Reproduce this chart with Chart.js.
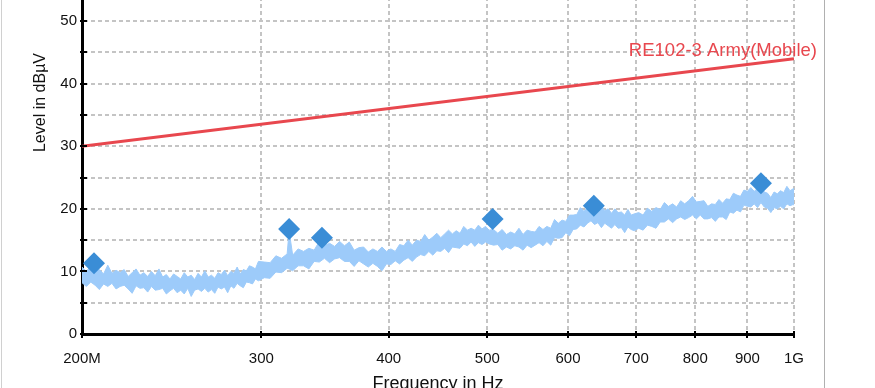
<!DOCTYPE html>
<html>
<head>
<meta charset="utf-8">
<script src="https://cdn.jsdelivr.net/npm/chart.js@4.4.0/dist/chart.umd.min.js"></script>
<style>
  html, body { margin: 0; padding: 0; background: #fff; overflow: hidden; }
  #wrap { position: relative; width: 875px; height: 388px; overflow: hidden; }
  #graficoEspectro { position: absolute; left: 0; top: -140px; }
  .frame { position: absolute; top: 0; bottom: 0; width: 0; }
  #frameLeft { left: 1px; border-left: 1px solid #d0d0d0; }
  #frameRight { left: 824px; border-left: 1px solid #b0b0b0; }
</style>
</head>
<body>
<div id="wrap">
  <canvas id="graficoEspectro" width="875" height="540"></canvas>
  <div class="frame" id="frameLeft"></div>
  <div class="frame" id="frameRight"></div>
</div>
<script>
// spectrum trace, read as an upper / lower envelope (MHz, dBuV)
var freqMHz = [
  200, 202, 204, 206, 208, 210, 212, 214, 216, 218, 220, 222, 224, 226, 228, 230, 232, 234, 236, 238,
  240, 242, 244, 246, 248, 250, 252, 254, 256, 258, 260, 262, 264, 266, 268, 270, 272, 274, 276, 278,
  280, 282, 284, 286, 288, 290, 292, 294, 296, 298,
  302, 306, 310, 314, 318, 319.4, 322, 326, 330, 334, 338, 342, 346, 350, 354, 358, 362, 366, 370, 374,
  378, 382, 386, 390, 394, 398, 402, 406, 410, 414, 418, 422, 426, 430, 434, 438, 442, 446, 450, 454,
  458, 462, 466, 470, 474, 478, 482, 486, 490, 494, 498, 502,
  507, 512, 517, 522, 527, 532, 537, 542, 547, 552, 557, 562, 567, 572, 577, 582, 587, 592, 597, 602,
  607, 612, 617, 622, 627, 632, 637, 642, 647, 652, 657, 662, 667, 672, 677, 682, 687, 692, 697,
  704, 711, 718, 725, 732, 739, 746, 753, 760, 767, 774, 781, 788, 795, 802, 809, 816, 823, 830, 837,
  844, 851, 858, 865, 872, 879, 886, 893, 900, 907, 914, 921, 928, 935, 942, 949, 956, 963, 970, 977,
  984, 991, 998, 1000
];
var traceUpper = [
  10.7, 10.0, 10.9, 10.0, 10.3, 9.6, 11.0, 9.7, 10.2, 9.8, 10.3, 9.2, 9.8, 10.4, 9.4, 9.8, 9.2, 10.0, 9.3, 10.4,
  9.1, 9.5, 8.8, 9.6, 9.2, 8.8, 9.8, 9.1, 9.4, 8.7, 9.7, 9.1, 10.1, 9.1, 9.4, 8.9, 9.8, 9.5, 10.2, 9.3,
  10.0, 9.7, 10.7, 9.6, 10.3, 10.1, 10.9, 10.7, 10.4, 11.6,
  11.5, 11.4, 12.5, 12.1, 12.8, 16.5, 12.6, 13.6, 13.2, 13.7, 13.4, 14.8, 14.1, 14.5, 14.0, 14.8, 14.1, 14.7, 13.4, 13.8,
  13.9, 13.1, 13.6, 13.2, 13.9, 13.2, 13.6, 13.2, 14.3, 14.1, 15.0, 14.2, 15.0, 14.8, 15.9, 15.0, 15.5, 16.1, 15.4, 16.0,
  16.6, 16.0, 16.5, 16.1, 17.2, 16.6, 16.9, 16.6, 17.4, 16.8, 17.2, 16.6,
  16.7, 16.1, 16.7, 15.9, 16.3, 16.0, 16.9, 15.9, 16.6, 16.4, 16.3, 17.2, 16.7, 17.2, 16.9, 18.3, 17.7, 18.2, 18.0, 19.0,
  19.0, 19.1, 20.2, 19.6, 20.2, 20.5, 19.8, 20.1, 20.5, 19.7, 20.0, 19.3, 20.0, 19.4, 19.5, 19.0, 19.9, 19.0, 19.2,
  19.4, 19.0, 20.1, 19.6, 20.2, 19.9, 21.0, 20.4, 20.8, 20.3, 21.3, 20.8, 21.3, 22.0, 21.1, 21.2, 21.3, 20.4, 20.8, 20.7,
  21.5, 20.9, 21.6, 21.5, 22.5, 22.2, 22.0, 23.0, 22.8, 23.4, 22.8, 23.3, 23.7, 22.7, 22.5, 21.8, 22.7, 22.4, 22.9, 22.6,
  23.6, 22.9, 23.2, 23.3
];
var traceLower = [
  8.2, 7.6, 8.3, 7.8, 7.1, 8.0, 7.6, 8.1, 7.2, 7.6, 7.8, 7.2, 6.5, 7.7, 7.3, 7.4, 6.7, 7.6, 7.0, 7.1,
  7.3, 6.4, 6.9, 7.3, 6.6, 7.0, 6.4, 7.3, 6.0, 7.0, 7.2, 6.8, 7.3, 6.7, 7.1, 6.5, 7.5, 7.2, 7.5, 6.6,
  7.7, 7.3, 8.1, 7.7, 7.4, 8.3, 8.2, 8.0, 8.8, 8.5,
  9.0, 8.9, 9.9, 9.8, 10.5, 10.4, 10.1, 10.9, 10.9, 10.4, 11.6, 11.5, 12.1, 11.4, 12.0, 12.2, 11.6, 11.6, 10.8, 11.7,
  11.2, 10.7, 11.3, 10.8, 10.1, 11.2, 11.1, 11.7, 11.2, 11.8, 12.2, 11.6, 12.3, 12.7, 12.5, 13.2, 12.6, 13.3, 13.2, 13.7,
  13.0, 13.9, 13.8, 13.7, 14.4, 14.1, 14.7, 14.0, 14.6, 14.3, 14.7, 14.4,
  14.2, 14.3, 13.4, 13.9, 13.6, 14.1, 13.9, 13.4, 14.2, 13.8, 14.2, 14.6, 14.1, 14.8, 14.2, 15.4, 15.3, 15.4, 16.2, 15.7,
  16.7, 16.8, 17.4, 17.1, 17.7, 18.1, 17.5, 17.8, 17.0, 17.7, 17.3, 16.9, 17.5, 16.9, 17.0, 16.2, 17.1, 16.7, 16.5,
  16.9, 16.6, 17.4, 17.2, 16.9, 17.9, 17.9, 18.4, 17.8, 18.4, 18.7, 18.3, 18.6, 19.0, 18.4, 19.0, 18.4, 18.4, 18.6, 18.0,
  18.7, 18.7, 18.3, 19.5, 19.3, 19.8, 19.5, 20.6, 20.4, 20.3, 20.8, 20.2, 21.0, 20.3, 20.1, 19.4, 20.2, 20.0, 20.4, 20.0,
  20.8, 20.5, 20.7, 20.6
];

// peak markers
var peakFreq = [205.5, 319.4, 344, 506, 636, 928];
var peakLevel = [11.3, 16.8, 15.4, 18.4, 20.5, 24.1];

// limit line
var limitName = "RE102-3 Army(Mobile)";
var limitFreq = [200, 1000];
var limitLevel = [30, 44];

// axes
var xTicks = [200, 300, 400, 500, 600, 700, 800, 900, 1000];
var xTickLabels = ["200M", "300", "400", "500", "600", "700", "800", "900", "1G"];
var yTicks = [0, 5, 10, 15, 20, 25, 30, 35, 40, 45, 50, 55, 60, 65, 70];

var corTraco = "#9dcbfa";
var corLimite = "#e8474e";
var corPico = "#3a8dd6";

function pontos(xs, ys) {
  return xs.map(function (x, i) {
    return { x: x, y: ys[i] };
  });
}

var extras = {
  id: "extras",
  beforeDatasetsDraw: function (chart) {
    var ctx = chart.ctx;
    var xs = chart.scales.x;
    var ys = chart.scales.y;
    ctx.save();
    ctx.fillStyle = corLimite;
    ctx.font = "18.5px 'Liberation Sans', Arial, sans-serif";
    ctx.textAlign = "right";
    ctx.textBaseline = "alphabetic";
    ctx.fillText(
      limitName,
      xs.getPixelForValue(limitFreq[limitFreq.length - 1]) + 23,
      ys.getPixelForValue(limitLevel[limitLevel.length - 1]) - 3
    );
    ctx.restore();
  },
  afterDraw: function (chart) {
    // short tick marks on the inside of both axes
    var ctx = chart.ctx;
    var xs = chart.scales.x;
    var ys = chart.scales.y;
    ctx.save();
    ctx.strokeStyle = "#000";
    ctx.lineWidth = 2;
    ctx.beginPath();
    xs.ticks.forEach(function (t) {
      var p = Math.round(xs.getPixelForValue(t.value));
      ctx.moveTo(p, ys.bottom);
      ctx.lineTo(p, ys.bottom - 3);
    });
    ys.ticks.forEach(function (t) {
      var p = Math.round(ys.getPixelForValue(t.value));
      ctx.moveTo(xs.left, p);
      ctx.lineTo(xs.left + 5, p);
    });
    ctx.stroke();
    ctx.restore();
  },
};

document.addEventListener("DOMContentLoaded", function () {
  Chart.defaults.font.family = "'Liberation Sans', Arial, sans-serif";
  Chart.defaults.color = "#111";

  var ctx = document.getElementById("graficoEspectro").getContext("2d");
  var graficoEspectro = new Chart(ctx, {
    type: "line",
    data: {
      datasets: [
        {
          label: "Peaks",
          data: pontos(peakFreq, peakLevel),
          showLine: false,
          pointStyle: "rectRot",
          pointRadius: 11,
          pointBackgroundColor: corPico,
          pointBorderColor: corPico,
          pointBorderWidth: 0,
        },
        {
          label: limitName,
          data: pontos(limitFreq, limitLevel),
          borderColor: corLimite,
          borderWidth: 3,
          pointRadius: 0,
          fill: false,
        },
        {
          label: "Trace max",
          data: pontos(freqMHz, traceUpper),
          borderColor: corTraco,
          borderWidth: 1,
          pointRadius: 0,
          fill: false,
        },
        {
          label: "Trace min",
          data: pontos(freqMHz, traceLower),
          borderColor: corTraco,
          backgroundColor: corTraco,
          borderWidth: 1,
          pointRadius: 0,
          fill: "-1",
        },
      ],
    },
    options: {
      responsive: false,
      animation: false,
      layout: { padding: { left: 0, right: 81, top: 0, bottom: 0 } },
      plugins: {
        legend: { display: false },
        tooltip: { enabled: false },
      },
      elements: { line: { tension: 0 } },
      scales: {
        x: {
          type: "logarithmic",
          min: 200,
          max: 1000,
          afterBuildTicks: function (scale) {
            scale.ticks = xTicks.map(function (v) {
              return { value: v };
            });
          },
          afterFit: function (scale) {
            scale.height = 66;
            scale.paddingLeft = 0;
            scale.paddingRight = 0;
          },
          ticks: {
            autoSkip: false,
            maxRotation: 0,
            padding: 12,
            font: { size: 15 },
            callback: function (value, index) {
              return xTickLabels[index];
            },
          },
          grid: {
            color: "#c4c4c4",
            lineWidth: 2,
            tickLength: 4,
            tickColor: "#000",
            tickWidth: 2,
            tickBorderDash: [],
          },
          border: { display: true, color: "#000", width: 3, dash: [4, 3] },
          title: {
            display: true,
            text: "Frequency in Hz",
            font: { size: 18 },
            padding: { top: 0, bottom: 5 },
          },
        },
        y: {
          min: 0,
          max: 74,
          afterBuildTicks: function (scale) {
            scale.ticks = yTicks.map(function (v) {
              return { value: v };
            });
          },
          afterFit: function (scale) {
            scale.width = 82;
            scale.paddingTop = 0;
            scale.paddingBottom = 0;
          },
          ticks: {
            padding: 3,
            font: { size: 15 },
            callback: function (value) {
              return value % 10 === 0 ? String(value) : "";
            },
          },
          grid: {
            color: "#c4c4c4",
            lineWidth: 2,
            tickLength: 2,
            tickColor: "#000",
            tickWidth: 2,
            tickBorderDash: [],
          },
          border: { display: true, color: "#000", width: 3, dash: [4, 3] },
          title: {
            display: true,
            text: "Level in dBµV",
            font: { size: 16 },
            padding: { top: 31, bottom: 0 },
          },
        },
      },
    },
    plugins: [extras],
  });
});
</script>
</body>
</html>
